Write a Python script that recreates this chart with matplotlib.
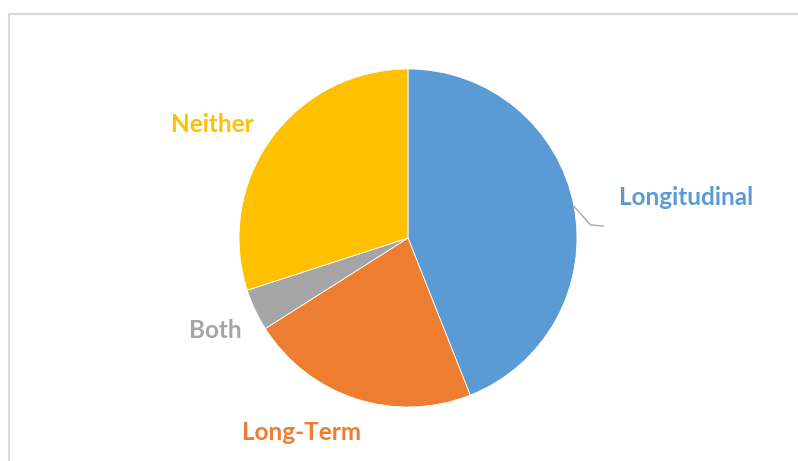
import matplotlib
matplotlib.use("Agg")
import matplotlib.pyplot as plt
from matplotlib.patches import Rectangle
import numpy as np

# Share of studies by design
categories = ["Longitudinal", "Long-Term", "Both", "Neither"]
shares = [44, 22, 4, 30]
colors = ["#5B9BD5", "#ED7D31", "#A5A5A5", "#FFC000"]

# Label anchors in pie-radius units
label_pos = {
    "Longitudinal": (1.25, 0.24, "left"),
    "Long-Term": (-0.63, -1.15, "center"),
    "Both": (-1.14, -0.55, "center"),
    "Neither": (-1.16, 0.67, "center"),
}

W, H = 798, 461
cx, cy, r = 408, 238, 169

fig = plt.figure(figsize=(W / 100, H / 100), dpi=100)
fig.patch.set_facecolor("white")

# Axes sized so that one data unit equals the pie radius in pixels
ax = fig.add_axes([(cx - 2 * r) / W, (H - cy - 2 * r) / H, 4 * r / W, 4 * r / H])
ax.axis("off")

wedges, _ = ax.pie(shares, colors=colors, startangle=90, counterclock=False,
                   radius=1, wedgeprops=dict(edgecolor="white", linewidth=0.6))
ax.set_xlim(-2, 2)
ax.set_ylim(-2, 2)
ax.set_aspect("auto")

for name, color in zip(categories, colors):
    x, y, ha = label_pos[name]
    ax.text(x, y, name, color=color, fontsize=17.5, fontweight="bold",
            family="Lato", ha=ha, va="center")

# Leader line for the Longitudinal label
w = wedges[0]
mid = np.deg2rad((w.theta1 + w.theta2) / 2)
ax.plot([np.cos(mid), 1.08, 1.155], [np.sin(mid), 0.077, 0.071],
        color="#A6A6A6", lw=1.0, solid_joinstyle="round")

# Chart area frame (runs off the right and bottom edges)
fig.add_artist(Rectangle((9 / W, -0.1), 1.2, (H - 14) / H + 0.1,
                         transform=fig.transFigure, fill=False,
                         edgecolor="#D9D9D9", linewidth=1.5))

fig.savefig("out.png", dpi=100, facecolor="white")
